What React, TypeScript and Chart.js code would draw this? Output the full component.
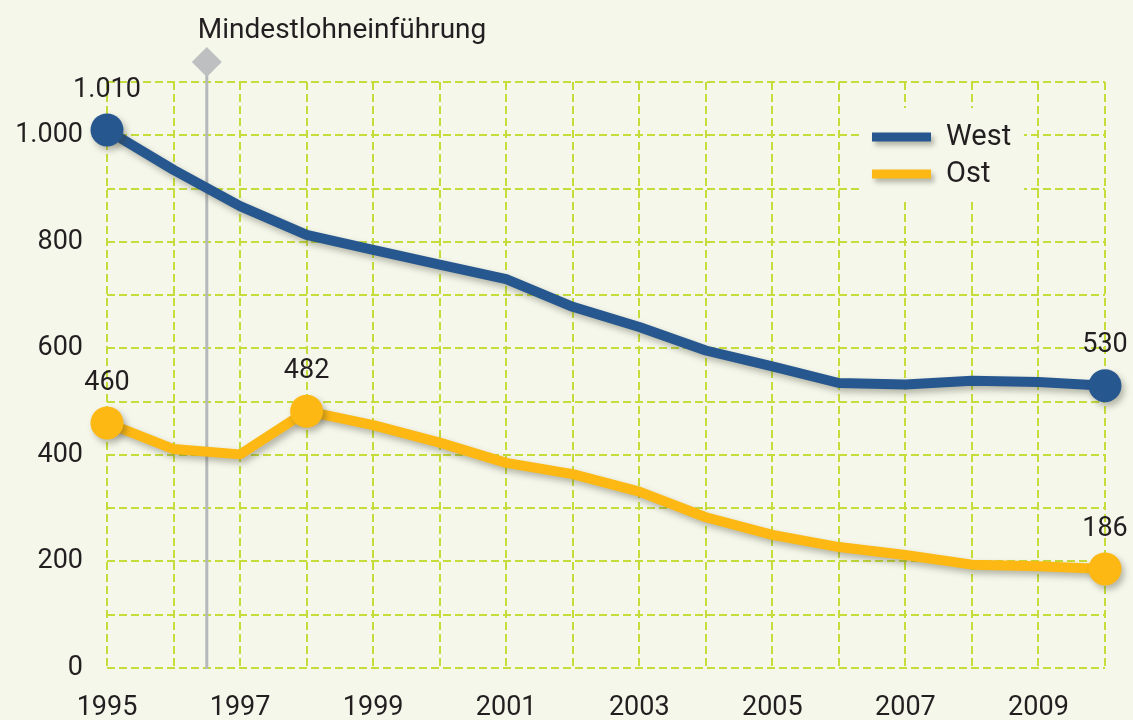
import React, { useEffect, useRef } from "react";
import { Chart, registerables } from "chart.js";

Chart.register(...registerables);

// ---- data ----
const years = ["1995", "1996", "1997", "1998", "1999", "2000", "2001", "2002", "2003", "2004", "2005", "2006", "2007", "2008", "2009", "2010"];
const westValues = [1010, 935, 867, 813, 785, 757, 730, 678, 640, 596, 566, 535, 532, 539, 537, 530];
const ostValues = [460, 411, 401, 482, 456, 423, 385, 364, 331, 283, 250, 227, 212, 194, 191, 186];
const westLabelIndices = [0, 15];
const ostLabelIndices = [0, 3, 15];
const seriesNames = ["West", "Ost"];
const markerIndex = 1.5;
const markerText = "Mindestlohneinführung";
const yMin = 0;
const yMax = 1100;
const yGridStep = 100;
const yLabelStep = 200;

// ---- style ----
const BG = "#f5f7eb";
const GRID = "#c6dc3a";
const WEST = "#27578f";
const OST = "#fdb813";
const TEXT = "#231f20";
const MARKER = "#b5b9bb";
const FONT = "Roboto, 'Liberation Sans', sans-serif";

function fmt(v: number): string {
  const s = String(Math.round(v));
  return s.replace(/\B(?=(\d{3})+(?!\d))/g, ".");
}

function pointRadii(indices: number[], n: number, r: number): number[] {
  const arr: number[] = [];
  for (let i = 0; i < n; i++) arr.push(indices.includes(i) ? r : 0);
  return arr;
}

const decorPlugin = {
  id: "decor",
  beforeDatasetsDraw(chart: any) {
    const { ctx, chartArea, scales } = chart;
    const x = scales.x.getPixelForValue(markerIndex);
    // marker line + diamond
    ctx.save();
    ctx.strokeStyle = MARKER;
    ctx.lineWidth = 3;
    ctx.beginPath();
    ctx.moveTo(x, 62);
    ctx.lineTo(x, chartArea.bottom + 1);
    ctx.stroke();
    ctx.fillStyle = "#bdbfc0";
    ctx.beginPath();
    ctx.moveTo(x, 47);
    ctx.lineTo(x + 15, 62);
    ctx.lineTo(x, 77);
    ctx.lineTo(x - 15, 62);
    ctx.closePath();
    ctx.fill();
    ctx.fillStyle = TEXT;
    ctx.font = `28px ${FONT}`;
    ctx.textAlign = "left";
    ctx.textBaseline = "alphabetic";
    ctx.fillText(markerText, x - 9, 38);
    ctx.restore();

    // legend box
    ctx.save();
    ctx.fillStyle = BG;
    const lx = chartArea.right - 245;
    const ly = chartArea.top + 26;
    ctx.fillRect(lx, ly, 164, 92);
    const colors = [WEST, OST];
    seriesNames.forEach((name, i) => {
      const cy = ly + 29 + i * 37;
      ctx.save();
      ctx.shadowColor = "rgba(60,60,40,0.35)";
      ctx.shadowBlur = 5;
      ctx.shadowOffsetX = 3;
      ctx.shadowOffsetY = 4;
      ctx.fillStyle = colors[i];
      ctx.fillRect(lx + 12, cy - 4.5, 59, 9);
      ctx.restore();
      ctx.fillStyle = TEXT;
      ctx.font = `29px ${FONT}`;
      ctx.textAlign = "left";
      ctx.textBaseline = "middle";
      ctx.fillText(name, lx + 86, cy + 1);
    });
    ctx.restore();

    // shadow for datasets
    ctx.save();
    ctx.shadowColor = "rgba(60,60,40,0.35)";
    ctx.shadowBlur = 6;
    ctx.shadowOffsetX = 3;
    ctx.shadowOffsetY = 4;
  },
  afterDatasetsDraw(chart: any) {
    const { ctx } = chart;
    ctx.restore();
    ctx.save();
    ctx.fillStyle = TEXT;
    ctx.font = `27px ${FONT}`;
    ctx.textAlign = "center";
    ctx.textBaseline = "middle";
    const sets: [number, number[], number[]][] = [
      [0, westValues, westLabelIndices],
      [1, ostValues, ostLabelIndices],
    ];
    sets.forEach(([di, vals, idxs]) => {
      const meta = chart.getDatasetMeta(di);
      idxs.forEach((i) => {
        const el = meta.data[i];
        ctx.fillText(fmt(vals[i]), el.x, el.y - 40);
      });
    });
    ctx.restore();
  },
};

export default function App() {
  const ref = useRef<HTMLCanvasElement | null>(null);

  useEffect(() => {
    document.body.style.margin = "0";
    document.body.style.background = BG;
    const canvas = ref.current;
    if (!canvas) return;
    const chart = new Chart(canvas, {
      type: "line",
      data: {
        labels: years,
        datasets: [
          {
            label: seriesNames[0],
            data: westValues,
            borderColor: WEST,
            backgroundColor: WEST,
            borderWidth: 10,
            pointRadius: pointRadii(westLabelIndices, years.length, 16.5),
            pointBorderWidth: 0,
            pointHoverRadius: 0,
            tension: 0,
            clip: false as any,
            borderJoinStyle: "round",
            borderCapStyle: "round",
          },
          {
            label: seriesNames[1],
            data: ostValues,
            borderColor: OST,
            backgroundColor: OST,
            borderWidth: 10,
            pointRadius: pointRadii(ostLabelIndices, years.length, 16.5),
            pointBorderWidth: 0,
            pointHoverRadius: 0,
            tension: 0,
            clip: false as any,
            borderJoinStyle: "round",
            borderCapStyle: "round",
          },
        ],
      },
      options: {
        animation: false,
        responsive: false,
        maintainAspectRatio: false,
        events: [],
        layout: { padding: { top: 82, right: 28, bottom: 0, left: 0 } },
        plugins: {
          legend: { display: false },
          tooltip: { enabled: false },
          title: { display: false },
        },
        scales: {
          x: {
            type: "category",
            offset: false,
            grid: { color: GRID, lineWidth: 2, drawTicks: false },
            border: { display: false, dash: [8, 4] },
            ticks: {
              autoSkip: false,
              maxRotation: 0,
              padding: 24,
              color: TEXT,
              font: { family: FONT, size: 27 },
              callback: (_v: any, i: number) => (i % 2 === 0 ? years[i] : ""),
            },
            afterFit: (s: any) => {
              s.height = 52;
            },
          },
          y: {
            min: yMin,
            max: yMax,
            grid: { color: GRID, lineWidth: 2, drawTicks: false },
            border: { display: false, dash: [8, 4] },
            ticks: {
              stepSize: yGridStep,
              padding: 24,
              color: TEXT,
              font: { family: FONT, size: 27 },
              callback: (v: any) => (Number(v) % yLabelStep === 0 ? fmt(Number(v)) : ""),
            },
            afterFit: (s: any) => {
              s.width = 107;
            },
          },
        },
      },
      plugins: [decorPlugin],
    });
    return () => chart.destroy();
  }, []);

  return (
    <div style={{ position: "absolute", left: 0, top: 0, width: 1133, height: 720, background: BG }}>
      <canvas ref={ref} width={1133} height={720} style={{ width: 1133, height: 720, display: "block" }} />
    </div>
  );
}
